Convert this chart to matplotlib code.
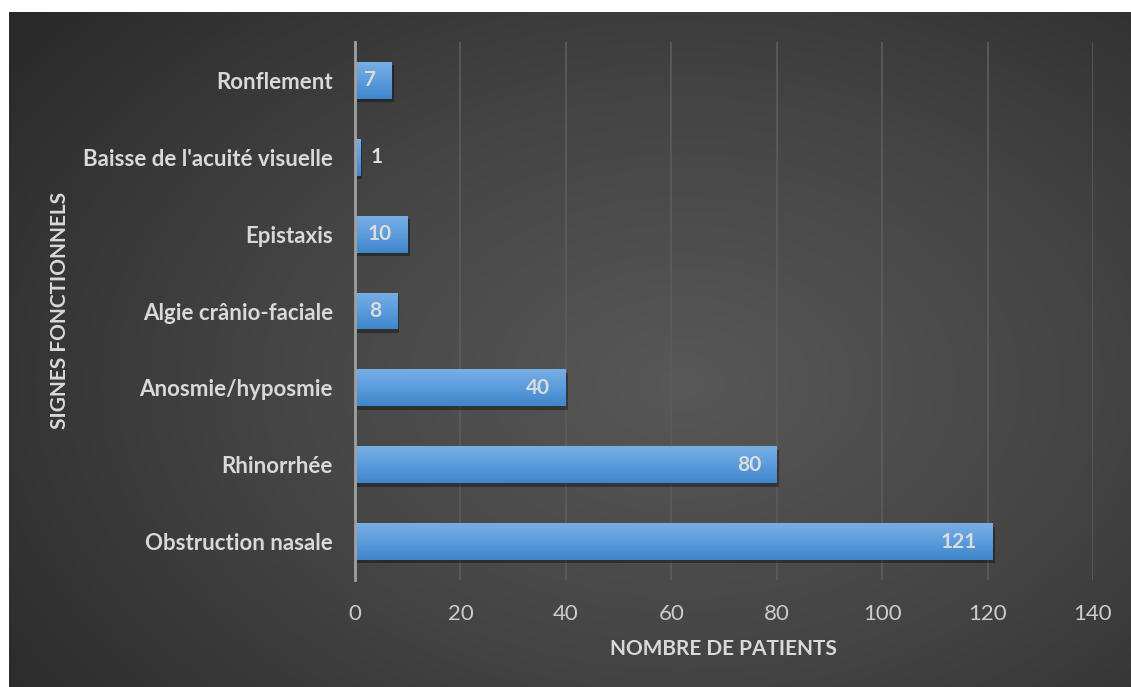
import numpy as np
import matplotlib
matplotlib.use("Agg")
import matplotlib.pyplot as plt
import matplotlib.patheffects as pe
from matplotlib.colors import LinearSegmentedColormap

plt.rcParams['font.family'] = ['Lato', 'DejaVu Sans']

# Signes fonctionnels (de bas en haut)
categories = ["Obstruction nasale", "Rhinorrhée", "Anosmie/hyposmie",
              "Algie crânio-faciale", "Epistaxis",
              "Baisse de l'acuité visuelle", "Ronflement"]
patients = [121, 80, 40, 8, 10, 1, 7]
xticks = [0, 20, 40, 60, 80, 100, 120, 140]

W, H = 1131, 687
fig = plt.figure(figsize=(W / 100, H / 100), dpi=100, facecolor="white")

# Dark panel with a soft radial light in the middle
bg = fig.add_axes([9 / W, 0, 1 - 9 / W, 1 - 12 / H])
bg.set_axis_off()
yy, xx = np.mgrid[0:1:400j, 0:1:700j]
r = np.sqrt(((xx - 0.6) / 0.75) ** 2 + ((yy - 0.55) / 0.85) ** 2)
r = np.clip(r, 0, 1)
bg_cmap = LinearSegmentedColormap.from_list("bg", ["#585858", "#444444", "#2a2a2a"])
bg.imshow(r, cmap=bg_cmap, aspect="auto", extent=[0, 1, 0, 1], vmin=0, vmax=1)
bg.set_xlim(0, 1)
bg.set_ylim(0, 1)

ax = fig.add_axes([355 / W, 1 - 580 / H, (1093 - 355) / W, (580 - 42) / H])
ax.patch.set_alpha(0)

y = np.arange(len(categories))
height = 0.48
bars = ax.barh(y, patients, height=height, color="#5b9bd5", zorder=3,
               path_effects=[pe.SimplePatchShadow(offset=(1.5, -2.5), shadow_rgbFace="black", alpha=0.35),
                             pe.Normal()])

# Vertical gradient on each bar
grad = np.linspace(0, 1, 64).reshape(-1, 1)
bar_cmap = LinearSegmentedColormap.from_list("bar", ["#3f86ca", "#5b9cdc", "#78aee4"])
for b in bars:
    x0, y0 = b.get_x(), b.get_y()
    im = ax.imshow(grad, cmap=bar_cmap, aspect="auto", origin="lower",
                   extent=[x0, x0 + b.get_width(), y0, y0 + b.get_height()], zorder=4)
    im.set_clip_path(b)

for yi, v in zip(y, patients):
    if v >= 5:
        ax.text(v - 3, yi, str(v), ha="right", va="center", color="#dcdcdc",
                fontsize=15, fontweight="bold", zorder=5)
    else:
        ax.text(v + 2, yi, str(v), ha="left", va="center", color="#dcdcdc",
                fontsize=15, fontweight="bold", zorder=5)

ax.set_xlim(0, 140)
ax.set_ylim(-0.5, len(categories) - 0.5)
ax.set_xticks(xticks)
ax.set_yticks(y)
ax.set_yticklabels(categories, fontsize=16, fontweight="bold", color="#d9d9d9")
ax.tick_params(axis="x", length=0, pad=17, labelsize=16, labelcolor="#cccccc")
ax.tick_params(axis="y", length=0, pad=16)
ax.grid(axis="x", color="#5c5c5c", linewidth=1.2, zorder=0)
ax.set_axisbelow(True)
for s in ["top", "right", "bottom"]:
    ax.spines[s].set_visible(False)
ax.spines["left"].set_color("#a0a0a0")
ax.spines["left"].set_linewidth(2)
ax.spines["left"].set_zorder(6)

fig.text(723 / W, 1 - 649 / H, "NOMBRE DE PATIENTS", ha="center", va="center",
         fontsize=15, fontweight="bold", color="#d9d9d9")
fig.text(60 / W, 1 - 310 / H, "SIGNES FONCTIONNELS", ha="center", va="center",
         rotation=90, fontsize=15, fontweight="bold", color="#d9d9d9")

fig.savefig("out.png", dpi=100, facecolor="white")
